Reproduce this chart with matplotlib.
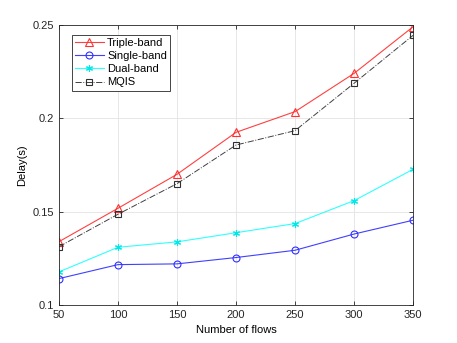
import matplotlib
matplotlib.use("Agg")
import matplotlib.pyplot as plt

flows = [50, 100, 150, 200, 250, 300, 350]
triple_band = [0.1339, 0.1518, 0.1700, 0.1925, 0.2036, 0.2241, 0.2491]
single_band = [0.1141, 0.1216, 0.1220, 0.1254, 0.1293, 0.1380, 0.1454]
dual_band = [0.1177, 0.1309, 0.1338, 0.1387, 0.1436, 0.1559, 0.1727]
mqis = [0.1312, 0.1486, 0.1650, 0.1857, 0.1934, 0.2188, 0.2445]

plt.rcParams["font.family"] = ["Liberation Sans", "DejaVu Sans"]
plt.rcParams["font.size"] = 8

fig = plt.figure(figsize=(4.57, 3.43), dpi=100)
ax = fig.add_axes([0.129, 0.111, 0.775, 0.816])

ax.plot(flows, triple_band, color="#ff4040", lw=0.8, marker="^", ms=5.5,
        mfc="none", mec="#ff3030", mew=0.8, label="Triple-band")
ax.plot(flows, single_band, color="#4040ff", lw=0.8, marker="o", ms=5,
        mfc="none", mec="#3030ff", mew=0.8, label="Single-band")
ax.plot(flows, dual_band, color="#30ffff", lw=0.8, marker=(6, 2, 0), ms=5,
        mfc="none", mec="#00e8e8", mew=0.8, label="Dual-band")
ax.plot(flows, mqis, color="#404040", lw=0.7, ls="-.", marker="s", ms=4.5,
        mfc="none", mec="#303030", mew=0.8, label="MQIS")

ax.set_xlim(50, 350)
ax.set_ylim(0.1, 0.25)
ax.set_xticks(flows)
ax.set_yticks([0.1, 0.15, 0.2, 0.25])
ax.set_yticklabels(["0.1", "0.15", "0.2", "0.25"])
ax.set_xlabel("Number of flows")
ax.set_ylabel("Delay(s)")
ax.grid(True, color="#e3e3e3", lw=0.6)
ax.set_axisbelow(True)
ax.tick_params(direction="in", length=3, width=0.6, top=True, right=True,
               colors="#262626", labelcolor="#262626")
for s in ax.spines.values():
    s.set_linewidth(0.6)
    s.set_color("#262626")

leg = ax.legend(loc="upper left", bbox_to_anchor=(0.02, 0.985), fancybox=False,
                edgecolor="#262626", framealpha=1, handlelength=2.6,
                borderpad=0.3, labelspacing=0.28, handletextpad=0.3)
leg.get_frame().set_linewidth(0.6)

fig.savefig("out.png", dpi=100)
